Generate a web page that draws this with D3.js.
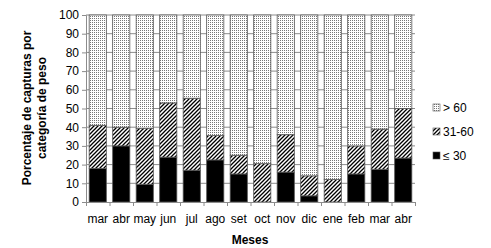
<!DOCTYPE html>
<html><head><meta charset="utf-8">
<script src="https://cdn.jsdelivr.net/npm/d3@7"></script>
<style>body{margin:0;background:#fff}svg{display:block}text{font-family:"Liberation Sans",Arial,sans-serif}</style>
</head><body>
<svg id="c" width="491" height="248"></svg>
<script>
const months = ["mar","abr","may","jun","jul","ago","set","oct","nov","dic","ene","feb","mar","abr"];
const le30 = [18,30,9.5,24,17,22.5,15,0,16,3.3,0,15,17.5,23.5];
const m3160 = [23,10,30,29,38.5,13,10,20.5,20,10.7,12,15,21.5,26.5];
const gt60 = [59,60,60.5,47,44.5,64.5,75,79.5,64,86,88,70,61,50];
const seriesNames = ["≤ 30","31-60","> 60"];
const yTicks = [0,10,20,30,40,50,60,70,80,90,100];

const svg = d3.select("#c");
const defs = svg.append("defs");
const pd = defs.append("pattern").attr("id","dots").attr("patternUnits","userSpaceOnUse").attr("width",2).attr("height",2);
pd.append("rect").attr("width",2).attr("height",2).attr("fill","#fff");
pd.append("rect").attr("width",1).attr("height",1).attr("fill","#777");
const ph = defs.append("pattern").attr("id","hatch").attr("patternUnits","userSpaceOnUse").attr("width",4).attr("height",4);
ph.append("rect").attr("width",4).attr("height",4).attr("fill","#fff");
ph.append("path").attr("d","M-1,1 l2,-2 M0,4 l4,-4 M3,5 l2,-2").attr("stroke","#000").attr("stroke-width",1.3);
const fills = ["#000","url(#hatch)","url(#dots)"];

const L=86,R=415,T=15,B=202;
const x = d3.scaleBand().domain(d3.range(months.length)).range([L,R]).paddingInner(0.27).paddingOuter(0.135);
const y = d3.scaleLinear().domain([0,100]).range([B,T]);

svg.append("g").selectAll("line").data(yTicks.slice(1)).join("line")
  .attr("x1",L).attr("x2",R).attr("y1",d=>y(d)).attr("y2",d=>y(d)).attr("stroke","#8c8c8c").attr("stroke-width",1);

const data = months.map((m,i)=>({i,a:le30[i],b:m3160[i],c:gt60[i]}));
const stack = d3.stack().keys(["a","b","c"])(data);
svg.append("g").selectAll("g").data(stack).join("g").attr("fill",(d,k)=>fills[k])
  .selectAll("rect").data(d=>d.filter(s=>s[1]-s[0]>0)).join("rect")
  .attr("x",d=>x(d.data.i)).attr("width",x.bandwidth())
  .attr("y",d=>y(d[1])).attr("height",d=>y(d[0])-y(d[1]))
  .attr("stroke","#555").attr("stroke-width",0.8);

const ya = svg.append("g").attr("transform",`translate(${L},0)`)
  .call(d3.axisLeft(y).tickValues(yTicks).tickSize(4).tickPadding(3));
const xs = d3.scaleLinear().domain([0,months.length]).range([L,R]);
const xa = svg.append("g").attr("transform",`translate(0,${B})`)
  .call(d3.axisBottom(xs).tickValues(d3.range(months.length+1)).tickSize(4).tickFormat(""));
[ya,xa].forEach(g=>{g.selectAll("path,line").attr("stroke","#8c8c8c");});
ya.selectAll("text").attr("font-size",12).attr("fill","#000");
svg.append("g").selectAll("text").data(months).join("text")
  .attr("x",(d,i)=>x(i)+x.bandwidth()/2).attr("y",223).attr("text-anchor","middle")
  .attr("font-size",12).text(d=>d);

svg.append("text").attr("x",250).attr("y",244).attr("text-anchor","middle").attr("font-size",12).attr("font-weight","bold").text("Meses");
const yl = svg.append("text").attr("transform","translate(0,108) rotate(-90)").attr("text-anchor","middle").attr("font-size",12).attr("font-weight","bold");
yl.append("tspan").attr("x",0).attr("y",31).text("Porcentaje de capturas por");
yl.append("tspan").attr("x",0).attr("y",46).text("categoría de peso");

const legY = [156,132,108];
const lg = svg.append("g");
seriesNames.forEach((n,k)=>{
  lg.append("rect").attr("x",433).attr("y",legY[k]-4).attr("width",7).attr("height",7).attr("fill",fills[k]).attr("stroke","#555").attr("stroke-width",0.6);
  lg.append("text").attr("x",443).attr("y",legY[k]+4).attr("font-size",12).text(n);
});
</script>
</body></html>
